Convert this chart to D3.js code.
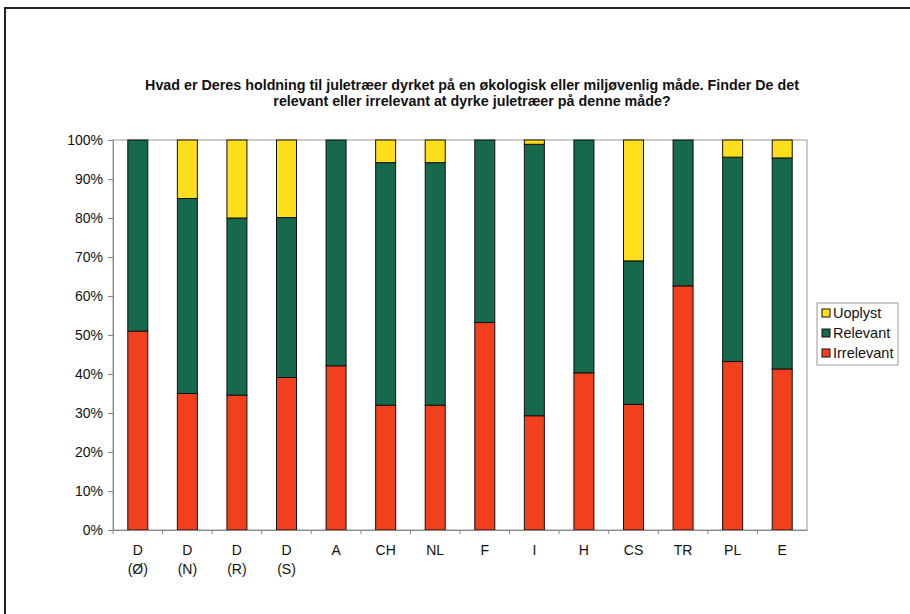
<!DOCTYPE html>
<html>
<head>
<meta charset="utf-8">
<script src="https://cdn.jsdelivr.net/npm/d3@7"></script>
<style>
  body { margin: 0; background: #fff; }
  text { font-family: "Liberation Sans", Arial, sans-serif; fill: #111; }
</style>
</head>
<body>
<script>
var categories = ["D\n(Ø)", "D\n(N)", "D\n(R)", "D\n(S)", "A", "CH", "NL", "F", "I", "H", "CS", "TR", "PL", "E"];
var irrelevant = [51, 35, 34.6, 39.1, 42.1, 32, 32, 53.2, 29.3, 40.3, 32.2, 62.6, 43.2, 41.3];
var relevant   = [49, 50, 45.4, 41, 57.9, 62.2, 62.2, 46.8, 69.6, 59.7, 36.8, 37.4, 52.4, 54.1];
var uoplyst    = [0, 15, 20, 19.9, 0, 5.8, 5.8, 0, 1.1, 0, 31, 0, 4.4, 4.6];
var seriesNames = ["Irrelevant", "Relevant", "Uoplyst"];
var colors = {"Irrelevant": "#f2401f", "Relevant": "#16694a", "Uoplyst": "#ffdf1c"};
var yTicks = [0, 10, 20, 30, 40, 50, 60, 70, 80, 90, 100];
var title = ["Hvad er Deres holdning til juletræer dyrket på en økologisk eller miljøvenlig måde. Finder De det",
             "relevant eller irrelevant at dyrke juletræer på denne måde?"];

var width = 910, height = 614;
var plot = {left: 113, right: 807, top: 140, bottom: 530};

var svg = d3.select("body").append("svg")
  .attr("width", width)
  .attr("height", height);

// outer frame (only left and top visible)
svg.append("path")
  .attr("d", "M5,614 L5,8 L910,8")
  .attr("fill", "none")
  .attr("stroke", "#222")
  .attr("stroke-width", 2);

// title
svg.append("text")
  .attr("x", 472)
  .attr("y", 90)
  .attr("text-anchor", "middle")
  .style("font-weight", "bold")
  .style("font-size", "14.3px")
  .selectAll("tspan")
  .data(title)
  .enter().append("tspan")
  .attr("x", 472)
  .attr("dy", function(d, i) { return i ? 16 : 0; })
  .text(function(d) { return d; });

var table = categories.map(function(c, i) {
  return {cat: c, Irrelevant: irrelevant[i], Relevant: relevant[i], Uoplyst: uoplyst[i]};
});
var stacked = d3.stack().keys(seriesNames)(table);

var xScale = d3.scaleBand().domain(categories).range([plot.left, plot.right]).paddingInner(0).paddingOuter(0);
var yScale = d3.scaleLinear().domain([0, 100]).range([plot.bottom, plot.top]);
var barW = 20;

// plot area border
svg.append("rect")
  .attr("x", plot.left)
  .attr("y", plot.top)
  .attr("width", plot.right - plot.left)
  .attr("height", plot.bottom - plot.top)
  .attr("fill", "none")
  .attr("stroke", "#999");

// bars
svg.append("g").selectAll("g")
  .data(stacked)
  .enter().append("g")
  .attr("fill", function(d) { return colors[d.key]; })
  .selectAll("rect")
  .data(function(d) { return d; })
  .enter().append("rect")
  .filter(function(d) { return d[1] - d[0] > 0; })
  .attr("x", function(d) { return xScale(d.data.cat) + xScale.bandwidth() / 2 - barW / 2; })
  .attr("y", function(d) { return yScale(d[1]); })
  .attr("width", barW)
  .attr("height", function(d) { return yScale(d[0]) - yScale(d[1]); })
  .attr("stroke", "#111")
  .attr("stroke-width", 1);

// y axis
var yAxis = d3.axisLeft(yScale)
  .tickValues(yTicks)
  .tickFormat(function(d) { return d + "%"; })
  .tickSize(5)
  .tickPadding(5);
var yAxisGroup = svg.append("g")
  .attr("transform", "translate(" + plot.left + ",0)")
  .call(yAxis);
yAxisGroup.select(".domain").attr("stroke", "#888");
yAxisGroup.selectAll(".tick line").attr("stroke", "#888");
yAxisGroup.selectAll("text").style("font-size", "14px").attr("fill", "#111");

// x axis
var xAxisGroup = svg.append("g")
  .attr("transform", "translate(0," + plot.bottom + ")")
  .call(d3.axisBottom(xScale).tickSize(0).tickFormat(""));
xAxisGroup.select(".domain").attr("stroke", "#888");
// tick marks between categories
xAxisGroup.selectAll(".sep")
  .data(categories)
  .enter().append("line")
  .attr("x1", function(d) { return xScale(d); })
  .attr("x2", function(d) { return xScale(d); })
  .attr("y1", 0)
  .attr("y2", 4)
  .attr("stroke", "#888");

svg.append("g").selectAll("text")
  .data(categories)
  .enter().append("text")
  .attr("text-anchor", "middle")
  .style("font-size", "14px")
  .each(function(d) {
    var lines = d.split("\n");
    var cx = xScale(d) + xScale.bandwidth() / 2;
    d3.select(this).selectAll("tspan")
      .data(lines)
      .enter().append("tspan")
      .attr("x", cx)
      .attr("y", function(l, i) { return 555 + i * 19; })
      .text(function(l) { return l; });
  });

// legend
var legend = svg.append("g").attr("transform", "translate(817,303)");
legend.append("rect")
  .attr("width", 81)
  .attr("height", 62)
  .attr("fill", "#fff")
  .attr("stroke", "#999");
var legendItems = ["Uoplyst", "Relevant", "Irrelevant"];
var li = legend.selectAll(".item")
  .data(legendItems)
  .enter().append("g")
  .attr("transform", function(d, i) { return "translate(5," + (10 + i * 20) + ")"; });
li.append("rect")
  .attr("x", 0).attr("y", -4)
  .attr("width", 8).attr("height", 8)
  .attr("fill", function(d) { return colors[d]; })
  .attr("stroke", "#111");
li.append("text")
  .attr("x", 11)
  .attr("y", 5)
  .style("font-size", "14.5px")
  .text(function(d) { return d; });
</script>
</body>
</html>
